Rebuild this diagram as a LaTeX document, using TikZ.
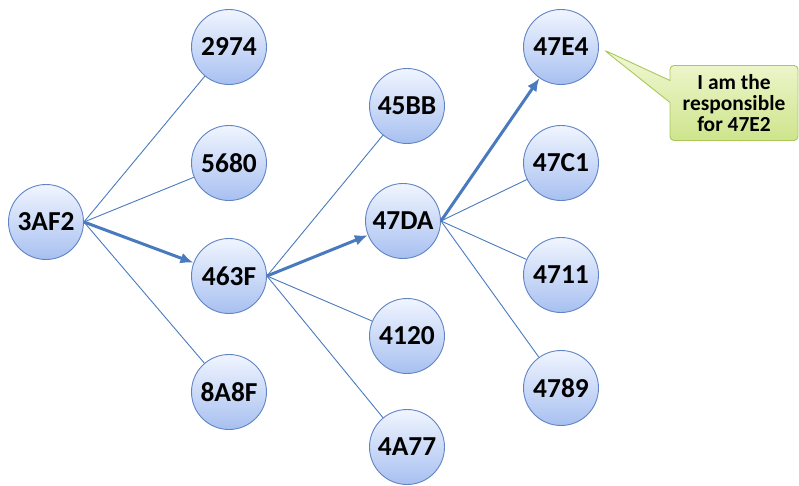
\documentclass[tikz,border=0pt]{standalone}
\usepackage{fontspec}
\setmainfont{Carlito}
\usetikzlibrary{shapes,shapes.callouts,arrows.meta,calc,positioning}

\definecolor{edgeblue}{RGB}{74,122,190}
\definecolor{ringblue}{RGB}{96,132,196}
\definecolor{filltop}{RGB}{240,245,255}
\definecolor{fillbot}{RGB}{168,192,240}
\definecolor{notetop}{RGB}{242,249,214}
\definecolor{notebot}{RGB}{206,228,140}
\definecolor{noteline}{RGB}{170,200,90}

\begin{document}
\begin{tikzpicture}[x=1bp,y=1bp,
    peer/.style={draw=ringblue, line width=0.9bp, circle, minimum size=75bp, inner sep=0pt,
      top color=filltop, bottom color=fillbot, font=\fontsize{27.5}{29}\selectfont\bfseries},
    link/.style={draw=edgeblue, line width=0.9bp},
    hop/.style={draw=edgeblue, line width=3bp, -{Latex[length=13bp,width=11bp]}},
    note/.style={rectangle callout, draw=noteline, line width=0.9bp, rounded corners=4bp,
      top color=notetop, bottom color=notebot, minimum width=128bp, minimum height=75bp,
      align=center, inner sep=2bp, callout pointer width=22bp,
      font=\fontsize{21.5}{21}\selectfont\bfseries}]
  \useasboundingbox (0,0) rectangle (799,-486);

  \node[peer] (N3AF2) at (46,-222) {3AF2};

  \node[peer] (N2974) at (229,-47) {2974};
  \node[peer] (N5680) at (229,-163) {5680};
  \node[peer] (N463F) at (229,-276) {463F};
  \node[peer] (N8A8F) at (229,-392) {8A8F};

  \node[peer] (N45BB) at (407,-106) {45BB};
  \node[peer] (N47DA) at (403,-221) {47DA};
  \node[peer] (N4120) at (407,-336) {4120};
  \node[peer] (N4A77) at (407,-447) {4A77};

  \node[peer] (N47E4) at (561,-47) {47E4};
  \node[peer] (N47C1) at (561,-163) {47C1};
  \node[peer] (N4711) at (561,-275) {4711};
  \node[peer] (N4789) at (561,-388) {4789};

  \coordinate (tip) at (604,-50);
  \node[note, callout absolute pointer=(tip)] (resp) at (734,-103) {I am the\\responsible\\for 47E2};

  \draw[link] (N3AF2.east) -- (N2974);
  \draw[link] (N3AF2.east) -- (N5680);
  \draw[link] (N3AF2.east) -- (N8A8F);
  \draw[hop] (N3AF2.east) -- (N463F);

  \draw[link] (N463F.east) -- (N45BB);
  \draw[link] (N463F.east) -- (N4120);
  \draw[link] (N463F.east) -- (N4A77);
  \draw[hop] (N463F.east) -- (N47DA);

  \draw[link] (N47DA.east) -- (N47C1);
  \draw[link] (N47DA.east) -- (N4711);
  \draw[link] (N47DA.east) -- (N4789);
  \draw[hop] (N47DA.east) -- (N47E4);

\end{tikzpicture}
\end{document}
